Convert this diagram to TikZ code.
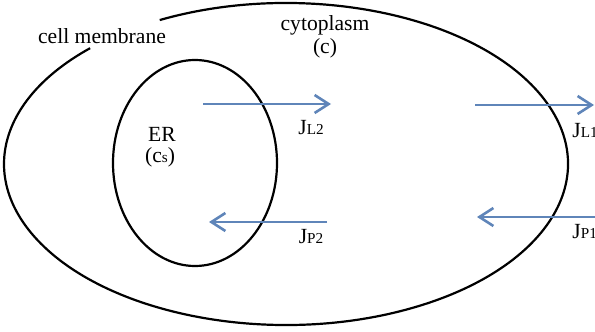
\documentclass[tikz,border=0pt]{standalone}
\usepackage{fontspec}
\setmainfont{Liberation Serif}
\usetikzlibrary{arrows.meta,shapes.geometric}
\definecolor{fluxclr}{RGB}{95,133,185}
\newcommand{\fluxlbl}[1]{J{\fontsize{7.6}{9}\selectfont #1}}

\begin{document}
\begin{tikzpicture}[
    x=0.5pt,
    y=-0.5pt,
    font=\fontsize{10.8}{12}\selectfont,
    membrane/.style={draw=black, line width=1.1pt},
    erbox/.style={membrane, ellipse, inner sep=0pt, minimum width=82pt, minimum height=103pt},
    flux/.style={draw=fluxclr, line width=1.3pt, -{Straight Barb[length=7pt, width=9pt]}},
    lbl/.style={inner sep=0pt, align=center}
]
\useasboundingbox (0,0) rectangle (595,332);

% Compartments.
\coordinate (cell_c) at (286,164);
\draw[membrane] (cell_c) ++(243.4:282 and 161) arc[start angle=243.4, end angle=586, x radius=282, y radius=161];
\node[erbox] (er) at (195,163) {};

% Labels.
\node[lbl] (membrane_lbl) at (102,36) {cell membrane};
\node[lbl] (cyto_lbl) at (325,25) {cytoplasm};
\node[lbl] (cyto_conc) at (325,48) {(c)};
\node[lbl] (er_lbl) at (162,134) {ER};
\node[lbl] (er_conc) at (160,157) {(c{\fontsize{7.6}{9}\selectfont s})};

% Flux end points.
\coordinate (l2_a) at (203,104);
\coordinate (l2_b) at (331,104);
\coordinate (p2_a) at (327,222);
\coordinate (p2_b) at (209,222);
\coordinate (l1_a) at (475,105);
\coordinate (l1_b) at (594,105);
\coordinate (p1_a) at (595,217);
\coordinate (p1_b) at (477,217);

% Fluxes.
\draw[flux] (l2_a) -- (l2_b);
\draw[flux] (p2_a) -- (p2_b);
\draw[flux] (l1_a) -- (l1_b);
\draw[flux] (p1_a) -- (p1_b);

\node[lbl] (jl2) at (311,128) {\fluxlbl{L2}};
\node[lbl] (jp2) at (311,237) {\fluxlbl{P2}};
\node[lbl, anchor=west] (jl1) at (572,131) {\fluxlbl{L1}};
\node[lbl, anchor=west] (jp1) at (572,232) {\fluxlbl{P1}};

\end{tikzpicture}
\end{document}
